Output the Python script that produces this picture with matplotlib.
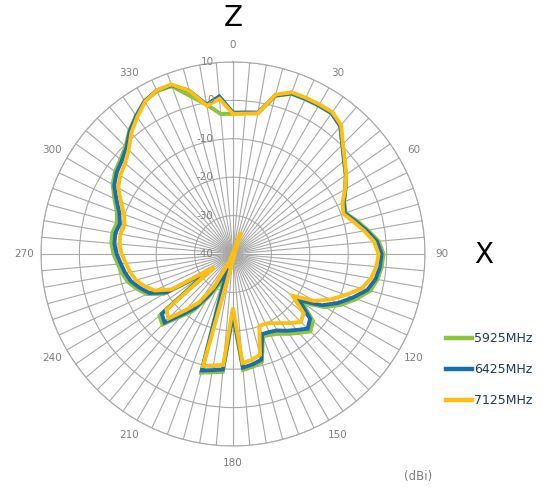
import numpy as np
import matplotlib.pyplot as plt
from matplotlib.lines import Line2D

# radiation pattern, one value every 5 degrees (0 = Z, 90 = X)
angles = np.arange(0, 360, 5)

gain_5925 = [-3.5, -3.2, -2.8, 2.6, 4.4, 4.5, 4.6, 4.7, 3.4, 0.2, -2.3, -4.2,
             -6.2, -8.0, -8.8, -6.6, -4.3, -1.9, -0.8, -1.1, -1.8, -3.0, -5.8, -8.8,
             -12.3, -18.0, -12.8, -11.5, -13.2, -14.6, -16.0, -16.8, -17.2, -10.9, -10.2, -9.7,
             -24.0, -9.2, -8.7, -8.0, -34.0, -31.0, -27.0, -22.0, -18.8, -14.0, -15.0, -31.5,
             -19.2, -15.3, -13.4, -11.7, -10.7, -9.9, -8.9, -8.2, -8.1, -8.7, -7.8, -5.9,
             -3.8, -2.5, -1.7, -0.4, 2.0, 4.0, 6.0, 6.8, 6.5, 2.5, -0.5, -3.4]

gain_6425 = [-3.2, -3.0, -2.6, 2.8, 4.5, 4.6, 4.7, 4.8, 3.5, 0.3, -2.2, -4.1,
             -6.2, -8.2, -9.0, -7.0, -4.7, -2.4, -1.3, -1.6, -2.3, -3.8, -6.8, -9.8,
             -13.3, -19.0, -13.8, -12.5, -14.2, -15.6, -17.0, -17.6, -17.8, -11.5, -10.8, -10.3,
             -24.5, -9.8, -9.3, -8.6, -36.0, -33.0, -28.0, -23.0, -19.5, -14.8, -15.8, -32.5,
             -20.0, -16.0, -14.2, -12.5, -11.5, -10.7, -9.7, -9.0, -8.9, -9.5, -8.5, -6.5,
             -4.3, -3.0, -2.2, -0.8, 1.8, 3.9, 6.0, 7.0, 6.8, 4.0, -0.5, 1.2]

gain_7125 = [-3.5, -3.3, -2.8, 3.0, 4.8, 4.9, 5.0, 5.1, 3.8, 0.5, -2.0, -4.0,
             -6.3, -8.5, -9.4, -7.5, -5.3, -3.1, -2.1, -2.5, -3.5, -5.3, -8.8, -12.0,
             -15.5, -21.0, -16.0, -15.0, -16.5, -18.0, -19.2, -20.0, -20.0, -12.8, -12.0, -11.5,
             -26.0, -11.0, -10.5, -9.8, -46.0, -38.0, -30.0, -24.6, -21.0, -16.2, -17.4, -34.0,
             -21.5, -17.5, -15.5, -13.8, -12.8, -12.0, -11.0, -10.3, -10.2, -10.8, -9.8, -7.8,
             -5.5, -4.2, -3.3, -1.6, 1.2, 3.5, 5.8, 7.0, 7.0, 4.0, -0.8, 0.6]

series_names = ["5925MHz", "6425MHz", "7125MHz"]
series_colors = ["#8cc43c", "#1b6dae", "#fdc010"]
r_min, r_max = -40, 10
r_ticks = [10, 0, -10, -20, -30, -40]
grey = "#7f7f7f"


def radar_coords(vals):
    # like Excel's radar chart: values below the axis minimum land on the opposite side
    th = np.deg2rad(angles).astype(float)
    r = np.array(vals, dtype=float)
    low = r < r_min
    th[low] += np.pi
    r[low] = 2 * r_min - r[low]
    return np.append(th, th[0]), np.append(r, r[0])


fig = plt.figure(figsize=(5.42, 4.9), dpi=100)
ax = fig.add_axes([41 / 542, 44 / 490, 384 / 542, 384 / 490], projection="polar")
ax.set_theta_zero_location("N")
ax.set_theta_direction(-1)
ax.set_ylim(r_min, r_max)

ax.set_thetagrids(angles, labels=[str(a) if a % 30 == 0 else "" for a in angles])
ax.set_yticks(r_ticks[:-1])
ax.set_yticklabels([])
ax.grid(color="#a8a8a8", lw=0.8)
ax.spines["polar"].set_color("#a8a8a8")
ax.spines["polar"].set_linewidth(0.8)
ax.tick_params(axis="x", labelsize=7.5, labelcolor=grey, pad=1.5)

for v in r_ticks:
    ax.annotate(str(v), xy=(0, v), xytext=(-14, 0), textcoords="offset points",
                ha="right", va="center", fontsize=7.5, color=grey, annotation_clip=False)

for vals, c in zip([gain_5925, gain_6425, gain_7125], series_colors):
    th, r = radar_coords(vals)
    ax.plot(th, r, color=c, lw=2.8, solid_joinstyle="miter")

handles = [Line2D([], [], color=c, lw=3.2) for c in series_colors]
fig.legend(handles, series_names, loc="upper left", bbox_to_anchor=(446 / 542, 1 - 332 / 490),
           frameon=False, fontsize=9, labelcolor="#1f3864", handlelength=2.1,
           handletextpad=0.15, labelspacing=1.45, borderpad=0, borderaxespad=0)

fig.text(233 / 542, 1 - 18 / 490, "Z", ha="center", va="center", fontsize=20)
fig.text(484 / 542, 1 - 255 / 490, "X", ha="center", va="center", fontsize=20)
fig.text(418 / 542, 1 - 476 / 490, "(dBi)", ha="center", va="center", fontsize=8.5, color=grey)

fig.savefig("out.png", dpi=100)
